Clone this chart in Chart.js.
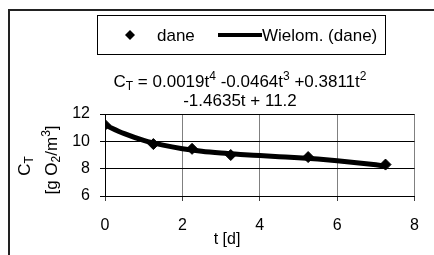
<!DOCTYPE html>
<html>
<head>
<meta charset="utf-8">
<script src="https://cdn.jsdelivr.net/npm/chart.js@4"></script>
<style>
  body { margin: 0; background: #fff; }
  canvas { display: block; }
</style>
</head>
<body>
<canvas id="chartC" width="434" height="255"></canvas>
<script>
// measured points
const tDays = [0, 1.25, 2.25, 3.25, 5.25, 7.25];
const concData = [11.2, 9.8, 9.45, 9.0, 8.85, 8.3];

// trend curve
const trendT = [0, 0.5, 1, 1.5, 2, 2.5, 3, 3.5, 4, 4.5, 5, 5.5, 6, 6.5, 7, 7.25];
const trendC = [11.2, 10.56, 10.07, 9.72, 9.46, 9.27, 9.14, 9.04, 8.96, 8.88, 8.8, 8.7, 8.58, 8.44, 8.28, 8.19];

const xTicks = [0, 2, 4, 6, 8];
const yTicks = [6, 8, 10, 12];

const seriesNames = ['dane', 'Wielom. (dane)'];

const FONT = "'Liberation Sans', Arial, sans-serif";
Chart.defaults.font.family = FONT;
Chart.defaults.color = '#000';

// draws text made of normal / sub / sup pieces, centred on x
function drawRich(ctx, parts, x, y, size) {
  const small = Math.round(size * 0.68);
  let total = 0;
  const widths = parts.map(p => {
    ctx.font = (p[1] === 'n' ? size : small) + 'px ' + FONT;
    const w = ctx.measureText(p[0]).width;
    total += w;
    return w;
  });
  let cx = x - total / 2;
  ctx.textAlign = 'left';
  ctx.textBaseline = 'alphabetic';
  parts.forEach((p, i) => {
    ctx.font = (p[1] === 'n' ? size : small) + 'px ' + FONT;
    let dy = 0;
    if (p[1] === 'sup') dy = -size * 0.42;
    if (p[1] === 'sub') dy = size * 0.18;
    ctx.fillText(p[0], cx, y + dy);
    cx += widths[i];
  });
}

const decor = {
  id: 'decor',
  beforeDraw(chart) {
    const ctx = chart.ctx;
    ctx.save();
    ctx.fillStyle = '#fff';
    ctx.fillRect(0, 0, chart.width, chart.height);
    ctx.restore();
  },
  afterDraw(chart) {
    const ctx = chart.ctx;
    ctx.save();
    ctx.fillStyle = '#000';
    ctx.strokeStyle = '#000';

    // outer frame
    ctx.lineWidth = 2;
    ctx.strokeStyle = '#222';
    ctx.strokeRect(9, 10, 600, 600);

    // legend
    ctx.lineWidth = 1;
    ctx.strokeStyle = '#000';
    ctx.strokeRect(97.5, 15.5, 288, 39);
    ctx.beginPath();
    ctx.moveTo(130, 30); ctx.lineTo(135, 35); ctx.lineTo(130, 40); ctx.lineTo(125, 35);
    ctx.closePath();
    ctx.fill();
    ctx.lineWidth = 4;
    ctx.beginPath();
    ctx.moveTo(218, 35); ctx.lineTo(262, 35);
    ctx.stroke();
    ctx.font = '17px ' + FONT;
    ctx.textBaseline = 'alphabetic';
    ctx.textAlign = 'left';
    ctx.fillText(seriesNames[0], 157, 41);
    ctx.fillText(seriesNames[1], 262, 41);

    // equation of the trend
    drawRich(ctx, [['C', 'n'], ['T', 'sub'], [' = 0.0019t', 'n'], ['4', 'sup'], [' -0.0464t', 'n'], ['3', 'sup'], [' +0.3811t', 'n'], ['2', 'sup']], 240, 87, 17);
    drawRich(ctx, [['-1.4635t + 11.2', 'n']], 240, 106, 17);

    // x axis title
    drawRich(ctx, [['t [d]', 'n']], 227, 244, 16);

    // y axis title, two rotated lines
    ctx.save();
    ctx.translate(30, 166);
    ctx.rotate(-Math.PI / 2);
    drawRich(ctx, [['C', 'n'], ['T', 'sub']], 0, 0, 17);
    ctx.restore();
    ctx.save();
    ctx.translate(57, 160);
    ctx.rotate(-Math.PI / 2);
    drawRich(ctx, [['[g O', 'n'], ['2', 'sub'], ['/m', 'n'], ['3', 'sup'], [']', 'n']], 0, 0, 17);
    ctx.restore();

    ctx.restore();
  }
};

const ctxC = document.getElementById('chartC').getContext('2d');

new Chart(ctxC, {
  type: 'scatter',
  data: {
    datasets: [{
      label: seriesNames[0],
      data: tDays.map((t, i) => ({ x: t, y: concData[i] })),
      pointStyle: 'rectRot',
      pointRadius: 5.5,
      backgroundColor: '#000',
      borderColor: '#000',
      showLine: false,
      order: 0
    }, {
      label: seriesNames[1],
      type: 'line',
      data: trendT.map((t, i) => ({ x: t, y: trendC[i] })),
      showLine: true,
      borderColor: '#000',
      borderWidth: 5,
      pointRadius: 0,
      cubicInterpolationMode: 'monotone',
      fill: false,
      order: 1
    }]
  },
  options: {
    responsive: false,
    animation: false,
    devicePixelRatio: 1,
    layout: { padding: { left: 65, right: 14, top: 114, bottom: 0 } },
    plugins: {
      legend: { display: false },
      tooltip: { enabled: false }
    },
    scales: {
      x: {
        type: 'linear',
        min: xTicks[0],
        max: xTicks[xTicks.length - 1],
        afterBuildTicks: s => { s.ticks = xTicks.map(v => ({ value: v })); },
        afterFit: s => { s.height = 59; },
        ticks: { font: { size: 16 }, color: '#000', padding: 15 },
        grid: { color: '#808080', tickLength: 5, tickColor: '#404040' },
        border: { color: '#000' }
      },
      y: {
        min: yTicks[0],
        max: yTicks[yTicks.length - 1],
        afterBuildTicks: s => { s.ticks = yTicks.map(v => ({ value: v })); },
        afterFit: s => { s.width = 40; },
        ticks: { font: { size: 16 }, color: '#000', padding: 10 },
        grid: { color: '#000', tickLength: 5, tickColor: '#000' },
        border: { color: '#000' }
      }
    }
  },
  plugins: [decor]
});
</script>
</body>
</html>
